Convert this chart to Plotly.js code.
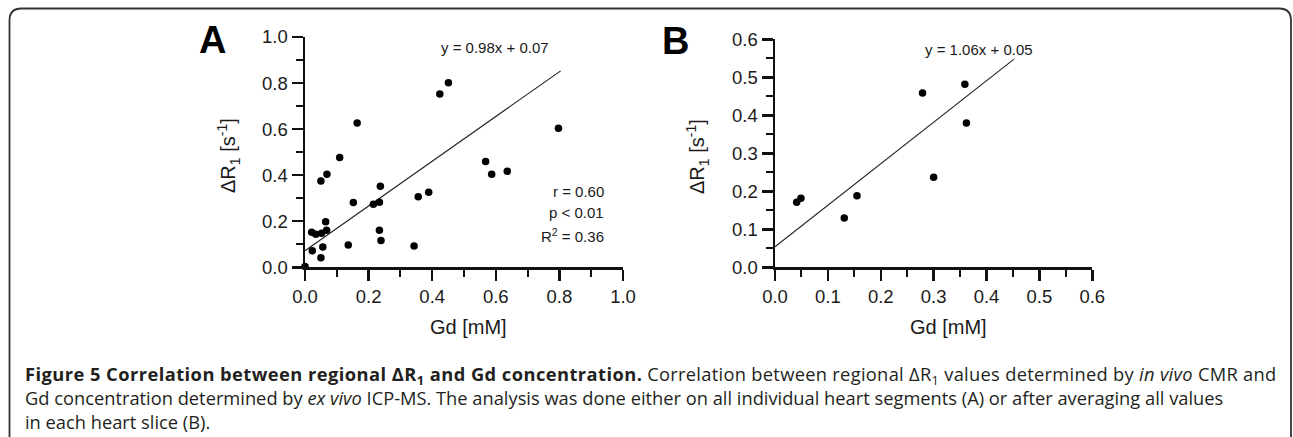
<!DOCTYPE html>
<html>
<head>
<meta charset="utf-8">
<script src="https://cdn.plot.ly/plotly-3.0.1.min.js"></script>
<style>html,body{margin:0;padding:0;background:#fff;}#chart{width:1293px;height:437px;}</style>
</head>
<body>
<div id="chart"></div>
<script>
// ---- Data ----
// Panel A: all individual heart segments
const gdA = [0.000, 0.023, 0.050, 0.056, 0.021, 0.034, 0.052, 0.068, 0.065, 0.050, 0.069, 0.109,
             0.164, 0.152, 0.136, 0.215, 0.234, 0.237, 0.234, 0.239, 0.343, 0.356, 0.389,
             0.424, 0.451, 0.568, 0.587, 0.636, 0.797];
const dr1A = [0.003, 0.072, 0.042, 0.088, 0.152, 0.143, 0.148, 0.161, 0.198, 0.375, 0.404, 0.477,
              0.627, 0.281, 0.097, 0.274, 0.283, 0.352, 0.161, 0.116, 0.093, 0.306, 0.326,
              0.752, 0.801, 0.459, 0.404, 0.417, 0.604];
const fitAx = [0.0, 0.804];
const fitAy = [0.072, 0.853];
const eqA = "y = 0.98x + 0.07";
const statsA = ["r = 0.60", "p < 0.01", "R<sup>2</sup> = 0.36"];

// Panel B: averaged per heart slice
const gdB = [0.041, 0.049, 0.131, 0.155, 0.279, 0.300, 0.359, 0.362];
const dr1B = [0.171, 0.182, 0.130, 0.188, 0.459, 0.237, 0.482, 0.380];
const fitBx = [0.0, 0.452];
const fitBy = [0.054, 0.548];
const eqB = "y = 1.06x + 0.05";
const statsB = ["r = 0.81", "p < 0.05", "R<sup>2</sup> = 0.65"];

const xTitle = "Gd [mM]";
const yTitle = "\u0394R<sub>1</sub> [s<sup>-1</sup>]";
const captionLines = [
  "<b><span style=\"letter-spacing:0.45px\">Figure 5 Correlation between regional \u0394R<sub>1</sub> and Gd concentration.</span></b> <span style=\"letter-spacing:0.3px\">Correlation between regional \u0394R<sub>1</sub> values determined by <i>in vivo</i> CMR and</span>",
  "Gd concentration determined by <i>ex vivo</i> ICP-MS. The analysis was done either on all individual heart segments (A) or after averaging all values",
  "in each heart slice (B)."
];

// ---- Layout helpers ----
const W = 1293, H = 437;
const px = v => v / W;
const py = v => 1 - v / H;

const tickFont = {family: "Liberation Sans, Arial, sans-serif", size: 18.5, color: "#1a1a1a"};
function axis(extra) {
  return Object.assign({
    showline: true, linecolor: "#111", linewidth: 2.5,
    ticks: "outside", ticklen: 11, tickwidth: 2.5, tickcolor: "#111",
    showgrid: false, zeroline: false, tickformat: ".1f",
    tickfont: tickFont, fixedrange: true
  }, extra);
}
function minor(dt) {
  return {dtick: dt, tick0: 0, ticks: "outside", ticklen: 7, tickwidth: 2, tickcolor: "#111", showgrid: false};
}

const traces = [
  {x: fitAx, y: fitAy, xaxis: "x", yaxis: "y", mode: "lines",
   line: {color: "#222", width: 1.1}, hoverinfo: "skip", showlegend: false},
  {x: gdA, y: dr1A, xaxis: "x", yaxis: "y", mode: "markers",
   marker: {color: "#000", size: 7.5}, cliponaxis: false, showlegend: false},
  {x: fitBx, y: fitBy, xaxis: "x2", yaxis: "y2", mode: "lines",
   line: {color: "#222", width: 1.1}, hoverinfo: "skip", showlegend: false},
  {x: gdB, y: dr1B, xaxis: "x2", yaxis: "y2", mode: "markers",
   marker: {color: "#000", size: 7.5}, cliponaxis: false, showlegend: false}
];

const annFont = {family: "Liberation Sans, Arial, sans-serif", size: 15, color: "#1a1a1a"};
const titleFont = {family: "Liberation Sans, Arial, sans-serif", size: 20, color: "#1a1a1a"};
const annotations = [];
function addText(o) { annotations.push(Object.assign({showarrow: false}, o)); }

// equations and statistics (data coords)
addText({xref: "x", yref: "y", x: 0.597, y: 0.953, text: eqA, font: annFont, xanchor: "center", yanchor: "middle"});
[0.327, 0.240, 0.140].forEach((yy, i) => addText({xref: "x", yref: "y", x: 0.945, y: yy, text: statsA[i], font: annFont, xanchor: "right", yanchor: "middle"}));
addText({xref: "x2", yref: "y2", x: 0.386, y: 0.574, text: eqB, font: annFont, xanchor: "center", yanchor: "middle"});
[0.2016, 0.146, 0.092].forEach((yy, i) => addText({xref: "x2", yref: "y2", x: 0.603, y: yy, text: statsB[i], font: annFont, xanchor: "right", yanchor: "middle"}));

// axis titles
addText({xref: "paper", yref: "paper", x: px(468), y: py(327), text: xTitle, font: titleFont, xanchor: "center", yanchor: "middle"});
addText({xref: "paper", yref: "paper", x: px(948), y: py(327), text: xTitle, font: titleFont, xanchor: "center", yanchor: "middle"});
addText({xref: "paper", yref: "paper", x: px(229), y: py(156), text: yTitle, font: titleFont, textangle: -90, xanchor: "center", yanchor: "middle"});
addText({xref: "paper", yref: "paper", x: px(697), y: py(157), text: yTitle, font: titleFont, textangle: -90, xanchor: "center", yanchor: "middle"});

// panel letters
const letterFont = {family: "Liberation Sans, Arial, sans-serif", size: 38, color: "#000"};
addText({xref: "paper", yref: "paper", x: px(212), y: py(40), text: "<b>A</b>", font: letterFont, xanchor: "center", yanchor: "middle"});
addText({xref: "paper", yref: "paper", x: px(675), y: py(41), text: "<b>B</b>", font: letterFont, xanchor: "center", yanchor: "middle"});

// caption (one block, three lines)
const capFont = {family: "Open Sans, sans-serif", size: 18.3, color: "#231f20"};
addText({xref: "paper", yref: "paper", x: px(23), y: py(397), text: captionLines.join("<br>"),
         font: capFont, xanchor: "left", yanchor: "middle", align: "left"});

// rounded frame
const r = 12, L = 9.5, T = 8.5, R = 1291, B = 447;
const framePath = `M ${L} ${B} L ${L} ${T + r} Q ${L} ${T} ${L + r} ${T} L ${R - r} ${T} Q ${R} ${T} ${R} ${T + r} L ${R} ${B} Z`;

const layout = {
  width: W, height: H,
  margin: {l: 0, r: 0, t: 0, b: 0},
  paper_bgcolor: "#fff", plot_bgcolor: "rgba(0,0,0,0)",
  showlegend: false,
  xaxis: axis({domain: [px(305), px(623)], range: [0, 1], dtick: 0.2, tick0: 0, anchor: "y", minor: minor(0.1)}),
  yaxis: axis({domain: [py(267.3), py(37)], range: [0, 1], dtick: 0.2, tick0: 0, anchor: "x", minor: minor(0.1)}),
  xaxis2: axis({domain: [px(775), px(1092.3)], range: [0, 0.6], dtick: 0.1, tick0: 0, anchor: "y2", minor: minor(0.05)}),
  yaxis2: axis({domain: [py(267.3), py(39.3)], range: [0, 0.6], dtick: 0.1, tick0: 0, anchor: "x2", minor: minor(0.05)}),
  annotations: annotations,
  shapes: [{type: "path", xref: "paper", yref: "paper", layer: "above",
            path: framePath.replace(/(-?\d+(\.\d+)?) (-?\d+(\.\d+)?)/g, (m, a, _b, c) => `${(a / W).toFixed(5)} ${(1 - c / H).toFixed(5)}`),
            line: {color: "#333", width: 1.8}}]
};

Plotly.newPlot("chart", traces, layout, {staticPlot: true, displayModeBar: false});
</script>
</body>
</html>
